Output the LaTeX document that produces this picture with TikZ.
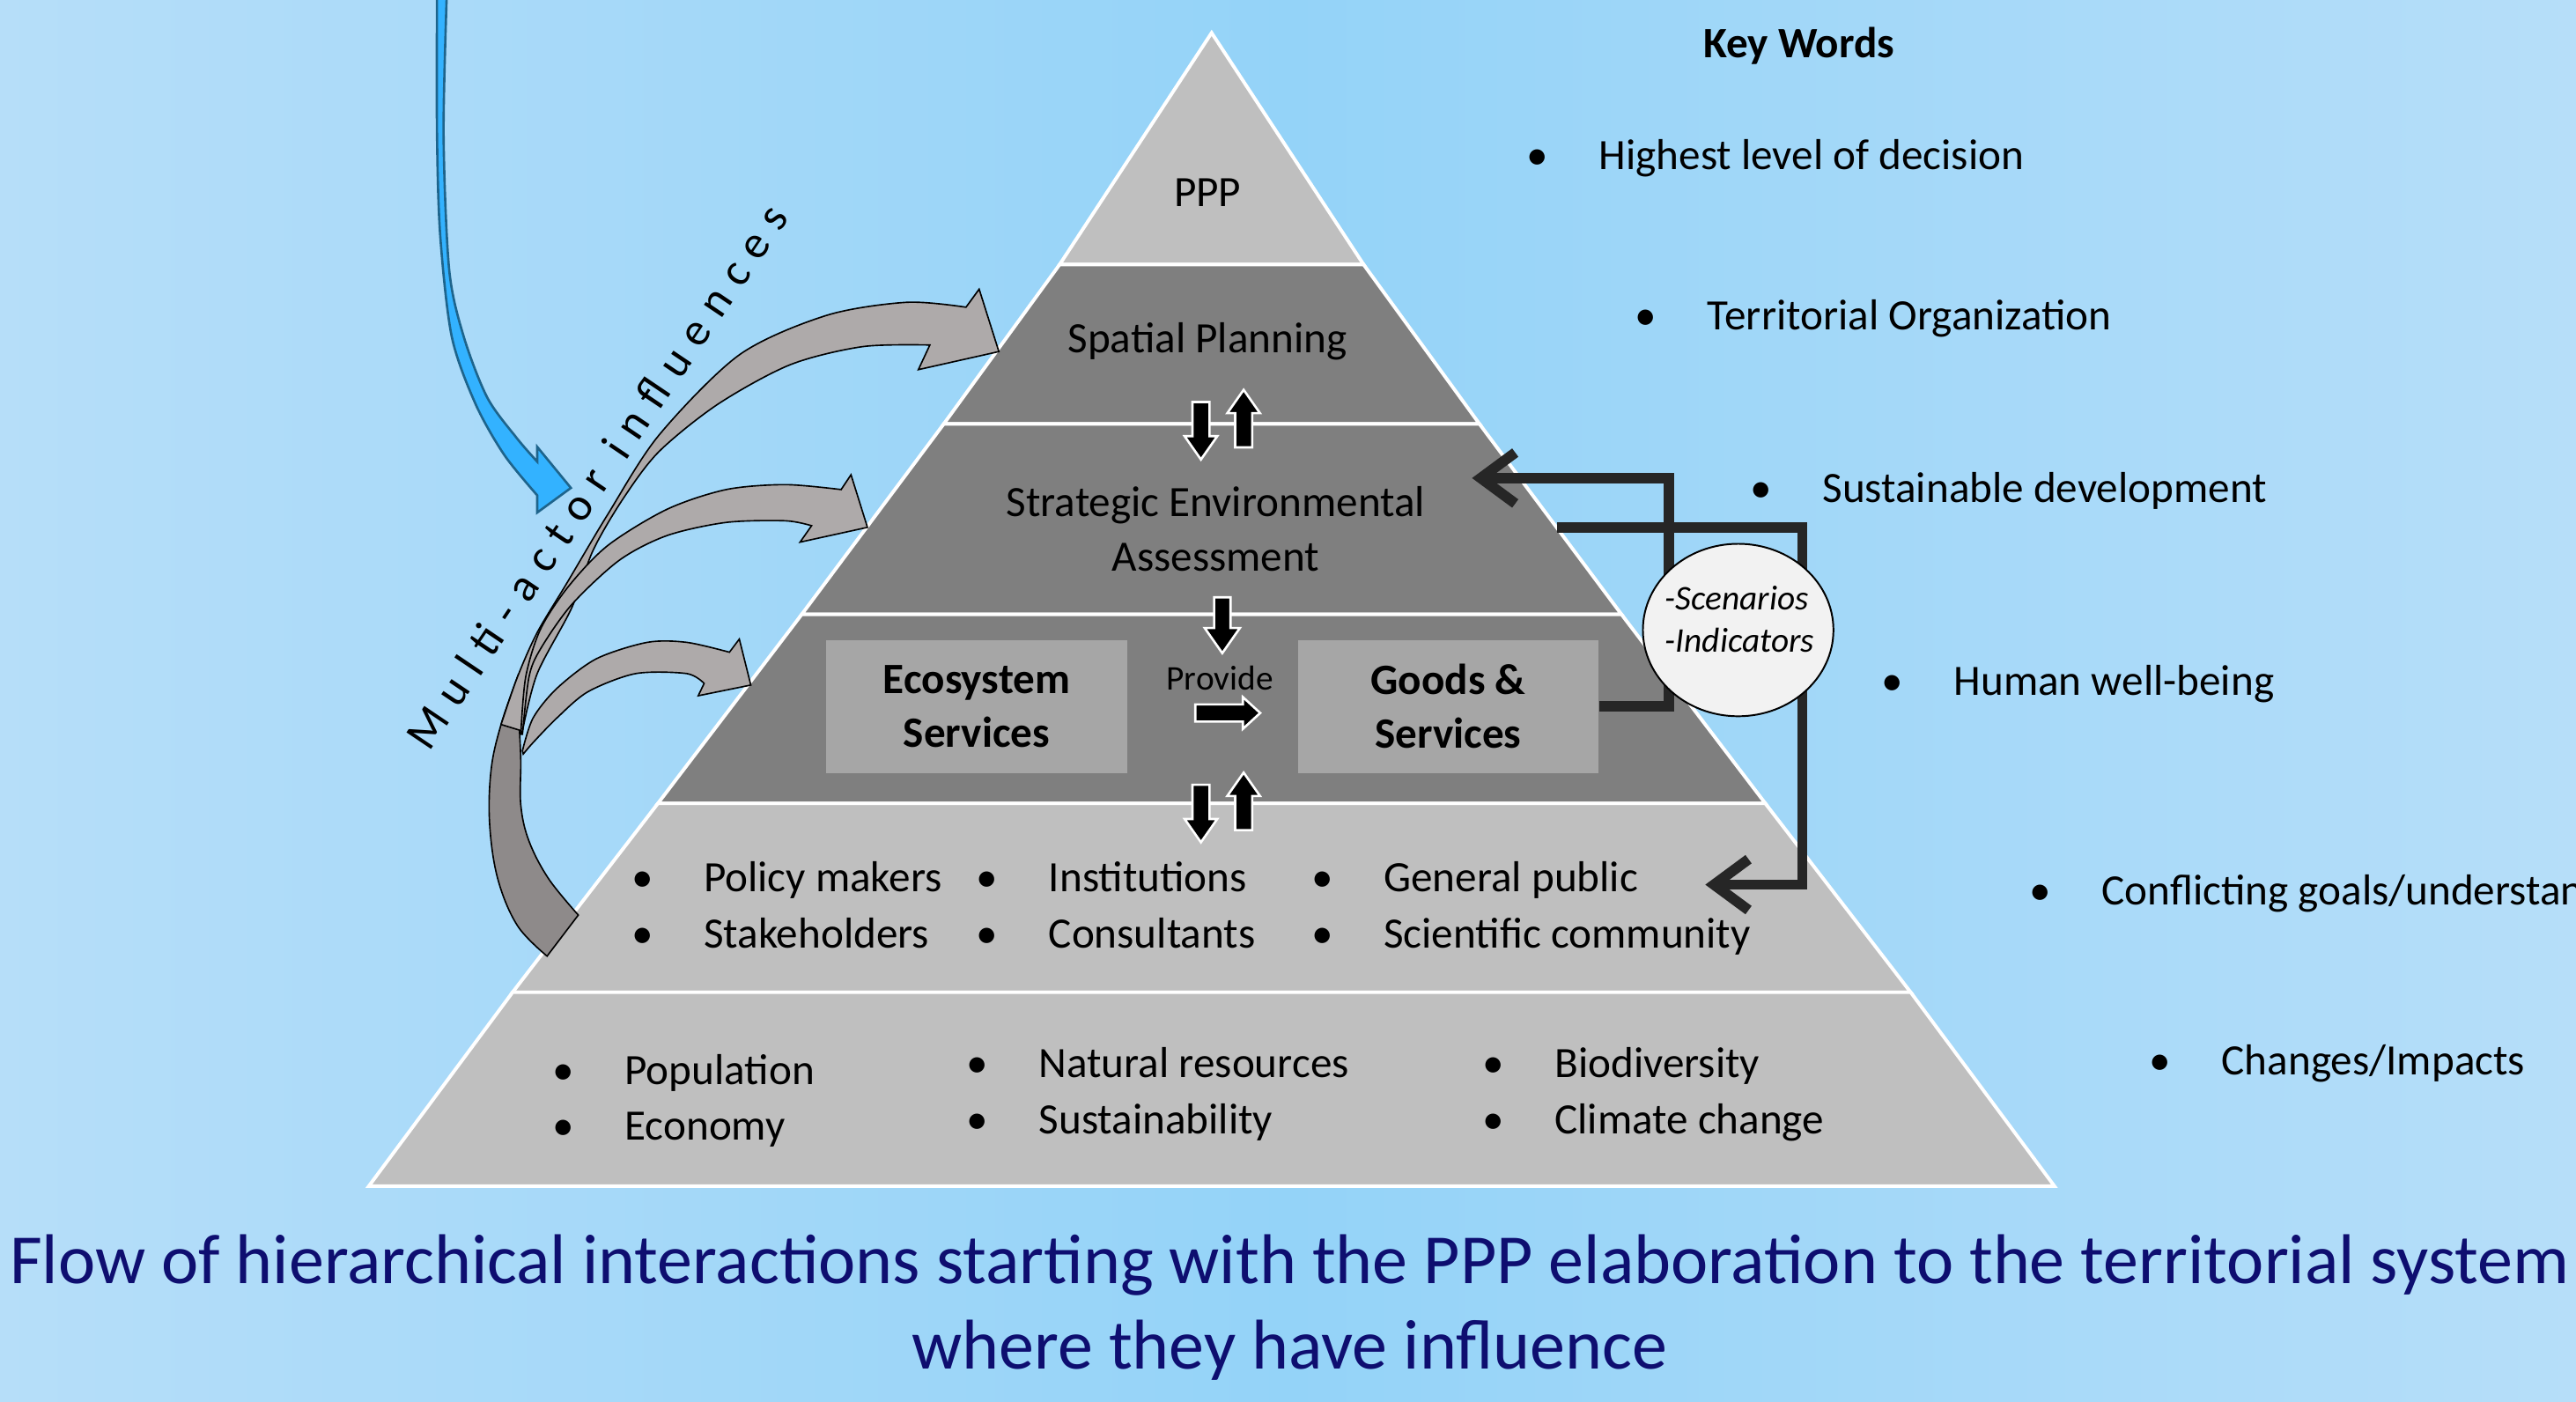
\documentclass[tikz,border=0pt]{standalone}
\usepackage{fontspec}
\setmainfont{Carlito}
\usetikzlibrary{shapes.arrows,shapes.geometric,arrows.meta,shadows}

\definecolor{bgmid}{RGB}{148,211,248}
\definecolor{bgedge}{RGB}{182,222,249}
\definecolor{lightlayer}{RGB}{191,191,191}
\definecolor{darklayer}{RGB}{127,127,127}
\definecolor{boxgray}{RGB}{166,166,166}
\definecolor{trunkgray}{RGB}{142,138,138}
\definecolor{bendgray}{RGB}{174,170,170}
\definecolor{linkdark}{RGB}{38,38,38}
\definecolor{bluefill}{RGB}{51,178,255}
\definecolor{blueline}{RGB}{30,100,140}
\definecolor{titlenavy}{RGB}{14,14,112}
\definecolor{ovalfill}{RGB}{242,242,242}

\tikzset{
  layer/.style={draw=white, line width=1.2pt},
  blockarrow/.style={single arrow, fill=black, draw=white, line width=0.8pt, inner xsep=0pt, inner ysep=0.09cm,
    single arrow head extend=0.095cm, minimum height=0.7cm, single arrow tip angle=70},
  svcbox/.style={rectangle, fill=boxgray, minimum width=3.66cm, minimum height=1.62cm, align=center,
    font=\bfseries\fontsize{15}{18.7}\selectfont, drop shadow={opacity=0.35, shadow xshift=0.03cm, shadow yshift=-0.05cm}},
  oval/.style={ellipse, draw=black, line width=0.6pt, fill=ovalfill, minimum width=2.32cm, minimum height=2.1cm, inner sep=0pt},
  link/.style={draw=linkdark, line width=3.6pt, -{Straight Barb[length=0.42cm,width=0.62cm]}},
  bendarrow/.style={draw=black, line width=0.5pt, fill=bendgray},
  bluearrow/.style={draw=blueline, line width=0.8pt, fill=bluefill},
  dot/.style={anchor=base, inner sep=0pt},
  item/.style={anchor=base west, inner sep=0pt}
}

\begin{document}
\begin{tikzpicture}[x=0.02cm, y=-0.02cm, font=\fontsize{15}{18.7}\selectfont]
        \useasboundingbox (0,0) rectangle (1568,853);
        \clip (0,0) rectangle (1568,853);
        \shade[left color=bgedge, right color=bgedge, middle color=bgmid] (0,0) rectangle (1568,853);

        % pyramid layers
        \def \Layers{ppp/20/0/161/92.5/lightlayer, spatial/161/92.5/258/163/darklayer, sea/258/163/374/249.5/darklayer,
            eco/374/249.5/489/337/darklayer, actors/489/337/604/425.5/lightlayer, base/604/425.5/722/513/lightlayer}
        \foreach \id / \ya / \wa / \yb / \wb / \c in \Layers{
            \filldraw[layer, fill=\c] ({737.5-\wa},\ya) -- ({737.5+\wa},\ya) -- ({737.5+\wb},\yb) -- ({737.5-\wb},\yb) -- cycle;
        }

        \node (ppp) at (735,117) {PPP};
        \node (spatial) at (735,208) {Spatial Planning};
        \node[align=center] (sea) at (740,322) {Strategic Environmental\\Assessment};

        \node[svcbox] (eco) at (594.5,430) {Ecosystem\\Services};
        \node[svcbox] (goods) at (881.5,430) {Goods \&\\Services};
        \node[font=\fontsize{12}{14}\selectfont] (provide) at (742.5,413) {Provide};

        % block arrows between the layers
        \node[blockarrow, rotate=-90] (downA) at (731,258.5) {};
        \node[blockarrow, rotate=90] (upA) at (757,258.5) {};
        \node[blockarrow, rotate=-90, inner ysep=0.086cm, single arrow head extend=0.114cm, minimum height=0.68cm] (downSea) at (744,377) {};
        \node[blockarrow, single arrow head extend=0.09cm, minimum height=0.79cm, single arrow tip angle=85] (toGoods) at (744.5,434) {};
        \node[blockarrow, rotate=-90] (downB) at (731,491.5) {};
        \node[blockarrow, rotate=90] (upB) at (757,491.5) {};

        % actors and territory items
        \def \Items{391/543/Policy makers, 391/577/Stakeholders, 601/543/Institutions, 601/577/Consultants,
            805/543/General public, 805/577/Scientific community, 343/660/Population, 343/694/Economy,
            595/656/Natural resources, 595/690/Sustainability, 909/656/Biodiversity, 909/690/Climate change}
        \foreach \bx / \by / \txt [count=\i] in \Items{
            \node[dot] (ib\i) at (\bx,\by) {•};
            \node[item] (it\i) at ({\bx+37},\by) {\txt};
        }

        % feedback connectors
        \coordinate (seaTip) at (896,291);
        \coordinate (bendA) at (1016,291);
        \coordinate (seaEdge) at (948,321);
        \coordinate (bendB) at (1097,321);
        \coordinate (actorsTip) at (1038,538.5);
        \draw[link] (goods.east) -| (bendA) -- (seaTip);
        \draw[link] (seaEdge) -- (bendB) |- (actorsTip);
        \node[oval] (scen) at (1058,383.5) {};
        \node[align=left, inner sep=0pt, font=\itshape\fontsize{12}{14.7}\selectfont] (scentext) at (1059,377) {-Scenarios\\-Indicators};

        % key words
        \node[font=\bfseries\fontsize{15}{18}\selectfont] (keys) at (1095,28) {Key Words};
        \def \Keys{936/103/Highest level of decision, 1002/201/Territorial Organization, 1072/306/Sustainable development,
            1152/423/Human well-being, 1242/551/{Conflicting goals/understanding}, 1315/654/{Changes/Impacts}}
        \foreach \bx / \by / \txt [count=\i] in \Keys{
            \node[dot] (kb\i) at (\bx,\by) {•};
            \node[item] (kw\i) at ({\bx+37},\by) {\txt};
        }

        % multi-actor arrows
        \filldraw[bendarrow, fill=trunkgray] plot[smooth, tension=0.6] coordinates {(352,557) (334,535) (322,512) (317,490) (317,463) (316,440) (315,412)}
            -- plot[smooth, tension=0.6] coordinates {(315,412) (305,441) (299,468) (298,501) (303,535) (315,563.5) (333,582)} -- cycle;
        \filldraw[bendarrow] plot[smooth] coordinates {(305,441) (315,412) (327,385) (345,355) (370,313) (401,265) (450,216) (503,192) (552,184) (588,187)}
            -- (596,176) -- (608,214) -- (559,225)
            -- plot[smooth] coordinates {(566,210) (525,211) (481,222) (437,246) (401,275) (379,304) (361,335) (348,370) (327,410) (318,445)} -- cycle;
        \filldraw[bendarrow] plot[smooth] coordinates {(317,447) (320,412) (329,383) (346,357) (370,332) (406,310) (442,298) (478,295) (512,298)}
            -- (518,289) -- (528,321) -- (487,330)
            -- plot[smooth] coordinates {(494,320) (478,317) (442,318) (406,326) (377,341) (348,368) (329,395) (322,412) (318,447)} -- cycle;
        \filldraw[bendarrow] plot[smooth] coordinates {(318,457) (324.5,437) (339,419) (363,401) (394,391) (418,391) (444,397)}
            -- (450,389) -- (457,417) -- (425,423.5)
            -- plot[smooth] coordinates {(428.6,416) (418,410) (387,410) (358,421) (339,437) (324.5,452) (318.5,459)} -- cycle;
        \filldraw[bluearrow] plot[smooth] coordinates {(266,-5) (266,82) (268,144) (275,205) (289.5,246) (307,277) (327,301.5)}
            -- (327,312) -- (347.5,297) -- (327,272)
            -- plot[smooth] coordinates {(327,281) (314.5,266.6) (296.6,242) (282.3,205) (273.4,164) (270,82) (272,-5)} -- cycle;
        \node[rotate=56, font=\fontsize{16}{18}\selectfont\addfontfeature{LetterSpace=28}] (multi) at (363,290) {Multi-actor influences};

        % caption
        \node[align=center, text=titlenavy, inner sep=0pt, font=\fontsize{24.4}{29.5}\selectfont] (caption) at (785,796)
            {Flow of hierarchical interactions starting with the PPP elaboration to the territorial system\\where they have influence};
    \end{tikzpicture}
\end{document}
